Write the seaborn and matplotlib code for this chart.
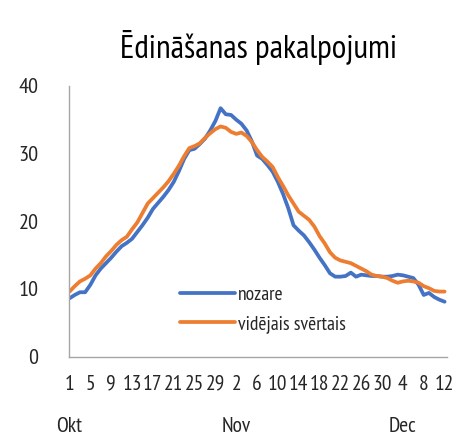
import pandas as pd
import numpy as np
import matplotlib
matplotlib.use('Agg')
import matplotlib.pyplot as plt
import matplotlib.transforms as mtransforms
import seaborn as sns

# dienas no 1. okt līdz 12. dec
days = list(range(1, 32)) + list(range(1, 31)) + list(range(1, 13))

nozare = [8.6, 9.1, 9.5, 9.5, 10.6, 12.0, 13.0, 13.8, 14.6, 15.5,
          16.3, 16.8, 17.4, 18.4, 19.4, 20.5, 21.8, 22.7, 23.6, 24.6,
          25.8, 27.4, 29.2, 30.5, 30.7, 31.4, 32.2, 33.4, 34.8, 36.7,
          35.8, 35.7, 35.0, 34.4, 33.4, 31.8, 29.7, 29.2, 28.3, 27.3,
          25.8, 24.0, 21.9, 19.4, 18.6, 17.9, 16.9, 15.8, 14.6, 13.5,
          12.3, 11.8, 11.8, 11.9, 12.4, 11.8, 12.1, 12.0, 11.9, 11.9,
          11.8, 11.8, 11.9, 12.1, 12.0, 11.8, 11.6, 10.6, 9.1, 9.4,
          8.8, 8.4, 8.1]

videjais = [9.6, 10.4, 11.1, 11.5, 12.0, 13.0, 13.8, 14.8, 15.6, 16.5,
            17.2, 17.7, 18.8, 19.8, 21.2, 22.6, 23.4, 24.2, 25.0, 25.9,
            27.0, 28.2, 29.6, 30.8, 31.1, 31.5, 32.3, 33.0, 33.6, 34.0,
            33.8, 33.2, 32.9, 33.1, 32.6, 31.7, 30.5, 29.5, 28.8, 28.0,
            26.5, 25.2, 23.8, 22.6, 21.4, 20.8, 20.2, 19.2, 17.8, 16.7,
            15.4, 14.6, 14.2, 14.0, 13.8, 13.4, 13.0, 12.6, 12.1, 11.9,
            11.8, 11.6, 11.2, 10.9, 11.1, 11.2, 11.1, 10.9, 10.4, 10.1,
            9.7, 9.6, 9.6]

months = ['Okt', 'Nov', 'Dec']
month_pos = [0, 32, 64]
series_names = ['nozare', 'vidējais svērtais']

sns.set_style('white')
plt.rcParams['font.family'] = ['PT Sans Narrow', 'DejaVu Sans']

idx = np.arange(len(days))
df = pd.DataFrame({
    'idx': np.concatenate([idx, idx]),
    'value': nozare + videjais,
    'series': [series_names[0]] * len(idx) + [series_names[1]] * len(idx),
})

fig = plt.figure(figsize=(4.54, 4.38), dpi=100)
ax = fig.add_axes([0.152, 0.186, 0.833, 0.618])

sns.lineplot(data=df, x='idx', y='value', hue='series',
             palette=['#4472C4', '#ED7D31'], linewidth=2.7, ax=ax)

ax.set_xlim(-0.1, len(days) - 0.5)
ax.set_ylim(0, 40)
ax.set_yticks([0, 10, 20, 30, 40])
ax.set_xticks(idx[::4])
ax.set_xticklabels([str(days[i]) for i in idx[::4]])
ax.set_xlabel('')
ax.set_ylabel('')

for s in ['top', 'right']:
    ax.spines[s].set_visible(False)
for s in ['left', 'bottom']:
    ax.spines[s].set_color('#A6A6A6')
    ax.spines[s].set_linewidth(1.0)

ax.tick_params(axis='y', length=8, width=1.0, color='#A6A6A6', direction='out',
               pad=14, labelsize=16, labelcolor='#262626')
ax.tick_params(axis='x', length=0, pad=13, labelsize=15.5, labelcolor='#262626')

trans = mtransforms.blended_transform_factory(ax.transData, ax.transAxes)
for m, p in zip(months, month_pos):
    ax.text(p, -0.258, m, transform=trans, ha='center', va='center',
            fontsize=15.5, color='#262626')

ax.set_title('Ēdināšanas pakalpojumi', fontsize=24, color='black', pad=20)

handles, labels = ax.get_legend_handles_labels()
ax.legend(handles, labels, loc='center left', bbox_to_anchor=(0.294, 0.174),
          frameon=False, fontsize=14, handlelength=2.8, handletextpad=0.15,
          borderpad=0, borderaxespad=0, labelspacing=0.55)

fig.savefig('out.png', dpi=100)
